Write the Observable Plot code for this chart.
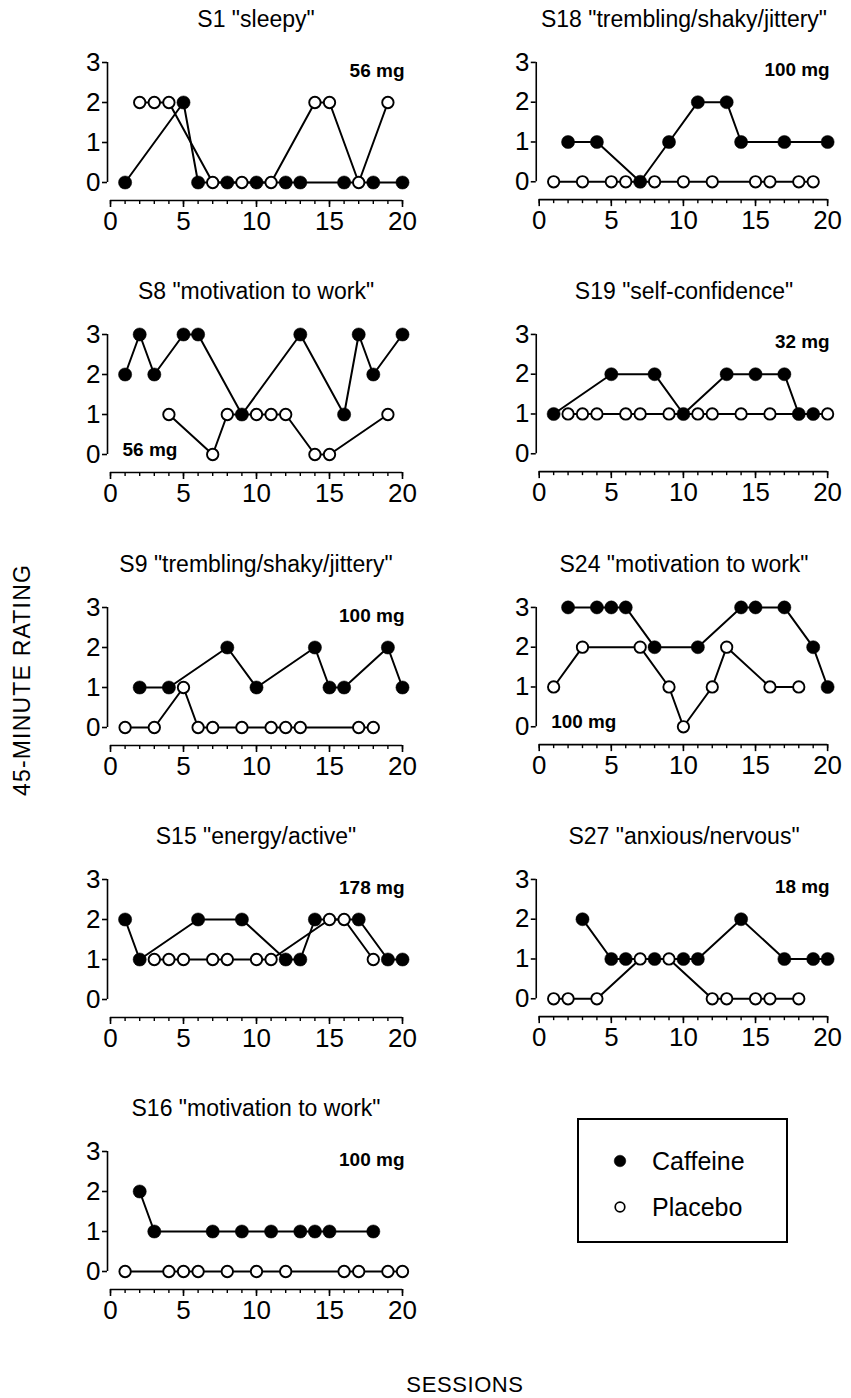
<!DOCTYPE html>
<html>
<head>
<meta charset="utf-8">
<script src="https://cdn.jsdelivr.net/npm/d3@7"></script>
<script src="https://cdn.jsdelivr.net/npm/@observablehq/plot@0.6"></script>
<style>
  body { margin: 0; background: #fff; font-family: "Liberation Sans", Arial, Helvetica, sans-serif; color: #000; }
  #page { position: relative; width: 851px; height: 1398px; overflow: hidden; background: #fff; }
  .title { position: absolute; font-size: 23px; white-space: nowrap; transform: translate(-50%, -50%); line-height: 1; }
  .panel { position: absolute; }
  .panel svg { overflow: visible; }
  .axislabel { position: absolute; white-space: nowrap; line-height: 1; }
  #legend { position: absolute; left: 577px; top: 1118px; width: 211px; height: 125px; border: 2px solid #000; box-sizing: border-box; }
  .legtext { position: absolute; font-size: 25px; line-height: 1; transform: translateY(-50%); white-space: nowrap; }
</style>
</head>
<body>
<div id="page"></div>
<script>
// ---------- data: [session, rating] ----------
const s1Caffeine  = [[1,0],[5,2],[6,0],[8,0],[10,0],[12,0],[13,0],[16,0],[18,0],[20,0]];
const s1Placebo   = [[2,2],[3,2],[4,2],[7,0],[9,0],[11,0],[14,2],[15,2],[17,0],[19,2]];
const s18Caffeine = [[2,1],[4,1],[7,0],[9,1],[11,2],[13,2],[14,1],[17,1],[20,1]];
const s18Placebo  = [[1,0],[3,0],[5,0],[6,0],[8,0],[10,0],[12,0],[15,0],[16,0],[18,0],[19,0]];
const s8Caffeine  = [[1,2],[2,3],[3,2],[5,3],[6,3],[9,1],[13,3],[16,1],[17,3],[18,2],[20,3]];
const s8Placebo   = [[4,1],[7,0],[8,1],[10,1],[11,1],[12,1],[14,0],[15,0],[19,1]];
const s19Caffeine = [[1,1],[5,2],[8,2],[10,1],[13,2],[15,2],[17,2],[18,1],[19,1]];
const s19Placebo  = [[2,1],[3,1],[4,1],[6,1],[7,1],[9,1],[11,1],[12,1],[14,1],[16,1],[20,1]];
const s9Caffeine  = [[2,1],[4,1],[8,2],[10,1],[14,2],[15,1],[16,1],[19,2],[20,1]];
const s9Placebo   = [[1,0],[3,0],[5,1],[6,0],[7,0],[9,0],[11,0],[12,0],[13,0],[17,0],[18,0]];
const s24Caffeine = [[2,3],[4,3],[5,3],[6,3],[8,2],[11,2],[14,3],[15,3],[17,3],[19,2],[20,1]];
const s24Placebo  = [[1,1],[3,2],[7,2],[9,1],[10,0],[12,1],[13,2],[16,1],[18,1]];
const s15Caffeine = [[1,2],[2,1],[6,2],[9,2],[12,1],[13,1],[14,2],[17,2],[19,1],[20,1]];
const s15Placebo  = [[3,1],[4,1],[5,1],[7,1],[8,1],[10,1],[11,1],[15,2],[16,2],[18,1]];
const s27Caffeine = [[3,2],[5,1],[6,1],[8,1],[10,1],[11,1],[14,2],[17,1],[19,1],[20,1]];
const s27Placebo  = [[1,0],[2,0],[4,0],[7,1],[9,1],[12,0],[13,0],[15,0],[16,0],[18,0]];
const s16Caffeine = [[2,2],[3,1],[7,1],[9,1],[11,1],[13,1],[14,1],[15,1],[18,1]];
const s16Placebo  = [[1,0],[4,0],[5,0],[6,0],[8,0],[10,0],[12,0],[16,0],[17,0],[19,0],[20,0]];

const panelTitles = ['S1 "sleepy"', 'S18 "trembling/shaky/jittery"', 'S8 "motivation to work"', 'S19 "self-confidence"',
                     'S9 "trembling/shaky/jittery"', 'S24 "motivation to work"', 'S15 "energy/active"', 'S27 "anxious/nervous"',
                     'S16 "motivation to work"'];
const panelDoses  = ["56 mg", "100 mg", "56 mg", "32 mg", "100 mg", "100 mg", "178 mg", "18 mg", "100 mg"];
const doseCorner  = ["top", "top", "bottom", "top", "top", "bottom", "top", "top", "top"];
const caffeineSeries = [s1Caffeine, s18Caffeine, s8Caffeine, s19Caffeine, s9Caffeine, s24Caffeine, s15Caffeine, s27Caffeine, s16Caffeine];
const placeboSeries  = [s1Placebo, s18Placebo, s8Placebo, s19Placebo, s9Placebo, s24Placebo, s15Placebo, s27Placebo, s16Placebo];
const sessionDomain = [0, 20];
const ratingDomain  = [0, 3];
const majorTicks = [0, 5, 10, 15, 20];
const minorTicks = d3.range(0, 21);
const ratingTicks = [0, 1, 2, 3];
const seriesNames = ["Caffeine", "Placebo"];
const yTitle = "45-MINUTE RATING";
const xTitle = "SESSIONS";

// ---------- layout ----------
const page = document.getElementById("page");
const FONT = '"Liberation Sans", Arial, Helvetica, sans-serif';
const colX0 = [110, 539];        // pixel of session 0
const colW  = [292, 290];        // pixel width of 0..20
const row0Top = 62;              // pixel of rating 3 in first row
const rowPitch = 272.3;
const unit = 40;                 // px per rating unit
const mL = 50, mR = 24, mT = 12, insB = 18, mB = 44;

function toRows(arr) { return arr.map(([s, r]) => ({s, r})); }

panelTitles.forEach((title, i) => {
  const col = i % 2, row = Math.floor(i / 2);
  const caff = toRows(caffeineSeries[i]);
  const plac = toRows(placeboSeries[i]);
  const height = mT + 3 * unit + insB + mB;
  const width = mL + colW[col] + mR;
  const top = row0Top + row * rowPitch - mT;
  const left = colX0[col] - mL;

  const doseMark = doseCorner[i] === "top"
    ? Plot.text([panelDoses[i]], {text: d => d, frameAnchor: "top-right", dx: 2, dy: 8, lineAnchor: "middle", textAnchor: "end", fontSize: 19, fontWeight: "bold", fill: "black"})
    : Plot.text([panelDoses[i]], {text: d => d, frameAnchor: "bottom-left", dx: 12, dy: -(insB + 5), lineAnchor: "middle", textAnchor: "start", fontSize: 19, fontWeight: "bold", fill: "black"});

  const svg = Plot.plot({
    width, height,
    marginLeft: mL, marginRight: mR, marginTop: mT, marginBottom: mB,
    x: {domain: sessionDomain, label: null},
    y: {domain: ratingDomain, label: null, insetBottom: insB},
    style: {fontFamily: FONT, fontSize: "26px", color: "black", background: "transparent", overflow: "visible"},
    marks: [
      // x axis baseline
      Plot.ruleY([ratingDomain[0]], {dy: insB, stroke: "black", strokeWidth: 1.6}),
      Plot.axisX({ticks: minorTicks, tickSize: 4, tickFormat: () => "", strokeWidth: 1.4}),
      Plot.axisX({ticks: majorTicks, tickSize: 7, tickPadding: 4, strokeWidth: 1.6, fontSize: 26, tickFormat: d => String(d)}),
      // y axis
      Plot.ruleX([{x: sessionDomain[0], a: ratingDomain[0], b: ratingDomain[1]}], {x: "x", y1: "a", y2: "b", dx: -3, stroke: "black", strokeWidth: 1.6}),
      Plot.axisY({ticks: ratingTicks, tickSize: 5, tickPadding: 2, dx: -3, strokeWidth: 1.6, fontSize: 26, tickFormat: d => String(d)}),
      // series
      Plot.line(caff, {x: "s", y: "r", stroke: "black", strokeWidth: 2}),
      Plot.line(plac, {x: "s", y: "r", stroke: "black", strokeWidth: 2}),
      Plot.dot(caff, {x: "s", y: "r", r: 6.6, fill: "black", stroke: "black", strokeWidth: 0.5}),
      Plot.dot(plac, {x: "s", y: "r", r: 5.7, fill: "white", stroke: "black", strokeWidth: 1.9}),
      doseMark
    ]
  });
  const div = document.createElement("div");
  div.className = "panel";
  div.style.left = left + "px";
  div.style.top = top + "px";
  div.appendChild(svg);
  page.appendChild(div);

  const t = document.createElement("div");
  t.className = "title";
  t.textContent = title;
  t.style.left = (colX0[col] + colW[col] / 2) + "px";
  t.style.top = (row0Top + row * rowPitch - 43) + "px";
  page.appendChild(t);
});

// axis titles
const yl = document.createElement("div");
yl.className = "axislabel";
yl.textContent = yTitle;
yl.style.fontSize = "23px";
yl.style.letterSpacing = "1.2px";
yl.style.left = "22px";
yl.style.top = "680px";
yl.style.transform = "translate(-50%, -50%) rotate(-90deg)";
page.appendChild(yl);

const xl = document.createElement("div");
xl.className = "axislabel";
xl.textContent = xTitle;
xl.style.fontSize = "22px";
xl.style.letterSpacing = "0.6px";
xl.style.left = "465px";
xl.style.top = "1385px";
xl.style.transform = "translate(-50%, -50%)";
page.appendChild(xl);

// legend
const leg = document.createElement("div");
leg.id = "legend";
page.appendChild(leg);
const legRows = [{y: 43, filled: true}, {y: 89, filled: false}];
seriesNames.forEach((name, k) => {
  const ns = "http://www.w3.org/2000/svg";
  const s = document.createElementNS(ns, "svg");
  s.setAttribute("width", 20); s.setAttribute("height", 20);
  s.style.position = "absolute";
  s.style.left = (43 - 2 - 10) + "px";
  s.style.top = (legRows[k].y - 2 - 10) + "px";
  const c = document.createElementNS(ns, "circle");
  c.setAttribute("cx", 10); c.setAttribute("cy", 10);
  c.setAttribute("r", legRows[k].filled ? 5.8 : 4.8);
  c.setAttribute("fill", legRows[k].filled ? "black" : "white");
  c.setAttribute("stroke", "black");
  c.setAttribute("stroke-width", legRows[k].filled ? 0.5 : 1.7);
  s.appendChild(c);
  leg.appendChild(s);
  const tx = document.createElement("div");
  tx.className = "legtext";
  tx.textContent = name;
  tx.style.left = (75 - 2) + "px";
  tx.style.top = (legRows[k].y - 2) + "px";
  leg.appendChild(tx);
});
</script>
</body>
</html>
